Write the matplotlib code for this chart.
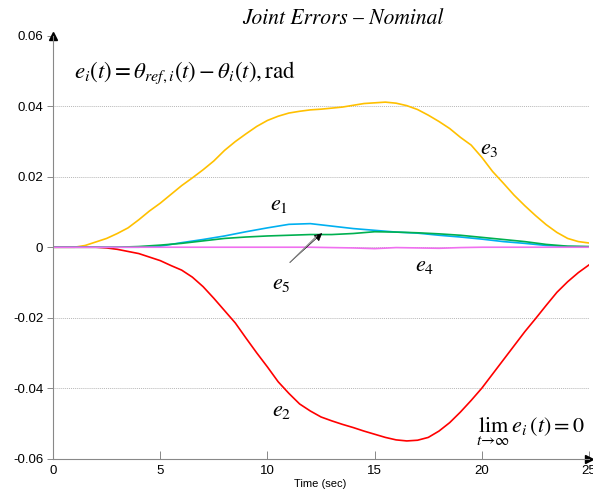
import matplotlib
matplotlib.use('Agg')
import matplotlib.pyplot as plt

matplotlib.rcParams['font.family'] = 'Liberation Sans'
matplotlib.rcParams['mathtext.fontset'] = 'stix'

# joint errors, rad, sampled every 0.5 s
t_fine = [0, 0.5, 1, 1.5, 2, 2.5, 3, 3.5, 4, 4.5, 5, 5.5, 6, 6.5, 7, 7.5, 8, 8.5, 9, 9.5,
          10, 10.5, 11, 11.5, 12, 12.5, 13, 13.5, 14, 14.5, 15, 15.5, 16, 16.5, 17, 17.5,
          18, 18.5, 19, 19.5, 20, 20.5, 21, 21.5, 22, 22.5, 23, 23.5, 24, 24.5, 25]
e3 = [0, 0, 0, 0.0005, 0.0015, 0.0025, 0.0039, 0.0055, 0.0078, 0.0103, 0.0125, 0.015,
      0.0175, 0.0197, 0.022, 0.0245, 0.0275, 0.030, 0.0322, 0.0343, 0.036, 0.0372, 0.0381,
      0.0386, 0.039, 0.0392, 0.0395, 0.0398, 0.0403, 0.0408, 0.041, 0.0412, 0.0409, 0.0402,
      0.0391, 0.0375, 0.0357, 0.0337, 0.0312, 0.029, 0.0255, 0.0215, 0.0182, 0.0148, 0.0118,
      0.009, 0.0064, 0.0042, 0.0025, 0.0016, 0.0012]
e2 = [0, 0, 0, 0, 0, -0.0002, -0.0006, -0.0012, -0.0018, -0.0028, -0.0038, -0.0052,
      -0.0065, -0.0085, -0.0112, -0.0145, -0.018, -0.0215, -0.0258, -0.030, -0.034, -0.0382,
      -0.0415, -0.0445, -0.0465, -0.0482, -0.0493, -0.0503, -0.0512, -0.0522, -0.0531,
      -0.054, -0.0547, -0.055, -0.0548, -0.054, -0.0522, -0.0498, -0.0468, -0.0435, -0.040,
      -0.036, -0.032, -0.028, -0.024, -0.0203, -0.0165, -0.0128, -0.0098, -0.0072, -0.005]

# smaller errors, sampled every 1 s
t_coarse = [0, 1, 2, 3, 4, 5, 6, 7, 8, 9, 10, 11, 12, 13, 14, 15, 16, 17, 18, 19, 20,
            21, 22, 23, 24, 25]
e1 = [0, 0, 0, 0, 0, 0.0003, 0.0013, 0.0022, 0.0032, 0.0044, 0.0055, 0.0065, 0.0067,
      0.006, 0.0053, 0.0048, 0.0043, 0.004, 0.0034, 0.0029, 0.0023, 0.0016, 0.0011,
      0.0005, 0.0002, 0.0001]
e5 = [0, 0, 0, 0, 0.0002, 0.0006, 0.0011, 0.0018, 0.0025, 0.0029, 0.0032, 0.0034, 0.0036,
      0.0036, 0.0039, 0.0044, 0.0043, 0.0041, 0.0038, 0.0034, 0.0028, 0.0022, 0.0016,
      0.0008, 0.0003, 0.0002]
e4 = [0, 0, 0, 0, 0, 0, 0, 0, 0, 0, 0, 0, 0, -0.0001, -0.0002, -0.0004, -0.0001, -0.0002,
      -0.0003, -0.0001, 0, 0, 0, 0, 0, 0]

x_ticks = [0, 5, 10, 15, 20, 25]
y_ticks = [-0.06, -0.04, -0.02, 0, 0.02, 0.04, 0.06]
y_grid = [-0.04, -0.02, 0, 0.02, 0.04]

fig = plt.figure(figsize=(5.93, 4.92), dpi=100)
ax = fig.add_axes([0.0894, 0.068, 0.904, 0.859])

for yg in y_grid:
    ax.axhline(yg, color='#b8b8b8', lw=0.7, ls=(0, (1, 1)), zorder=0)

lw = 1.2
ax.plot(t_fine, e3, color='#FFC000', lw=lw)
ax.plot(t_fine, e2, color='#FF0000', lw=lw)
ax.plot(t_coarse, e1, color='#00B0F0', lw=lw)
ax.plot(t_coarse, e5, color='#00B050', lw=lw)
ax.plot(t_coarse, e4, color='#F070F0', lw=lw)

ax.set_xlim(0, 25)
ax.set_ylim(-0.06, 0.06)
ax.set_xticks(x_ticks)
ax.set_yticks(y_ticks)
ax.set_xticklabels([str(v) for v in x_ticks])
ax.set_yticklabels(['-0.06', '-0.04', '-0.02', '0', '0.02', '0.04', '0.06'])
ax.tick_params(axis='x', direction='in', length=6, width=0.7, color='#888888',
               labelsize=9.5, pad=5)
ax.tick_params(axis='y', direction='out', length=4, width=0.7, color='#888888',
               labelsize=9.5, pad=3)

for side in ['top', 'right']:
    ax.spines[side].set_visible(False)
for side in ['left', 'bottom']:
    ax.spines[side].set_color('#888888')
    ax.spines[side].set_linewidth(0.8)

# arrow heads on the axes
ax.plot(0, 1, marker='^', color='black', markersize=6, transform=ax.transAxes, clip_on=False)
ax.plot(1, 0, marker='>', color='black', markersize=6, transform=ax.transAxes, clip_on=False)

# labels on the curves
ax.text(10.1, 0.0105, r'$e_1$', fontsize=16)
ax.text(10.2, -0.048, r'$e_2$', fontsize=16)
ax.text(19.9, 0.0265, r'$e_3$', fontsize=16)
ax.text(16.9, -0.0068, r'$e_4$', fontsize=16)
ax.text(10.2, -0.0118, r'$e_5$', fontsize=16)
ax.annotate('', xy=(12.55, 0.0040), xytext=(11.05, -0.0043),
            arrowprops=dict(arrowstyle='-|>', color='black', lw=0.5, mutation_scale=12,
                            shrinkA=0, shrinkB=0))
ax.annotate('', xy=(12.3, 0.0032), xytext=(11.05, -0.0043),
            arrowprops=dict(arrowstyle='-', color='#888888', lw=0.8, shrinkA=0, shrinkB=0))

ax.text(1.0, 0.0495, r'$e_i(t) = \theta_{ref,i}(t) - \theta_i(t), \mathrm{rad}$', fontsize=16.5,
        va='center')
ax.text(24.8, -0.0525, r'$\lim_{t\to\infty}\,e_i(t) = 0$', fontsize=16, ha='right',
        va='center')

fig.text(0.578, 0.962, 'Joint Errors \u2013 Nominal', fontsize=15.5, family='STIXGeneral',
         style='italic', ha='center', va='center')
fig.text(0.54, 0.016, 'Time (sec)', fontsize=8, ha='center', va='center')

fig.savefig('out.png', dpi=100)
